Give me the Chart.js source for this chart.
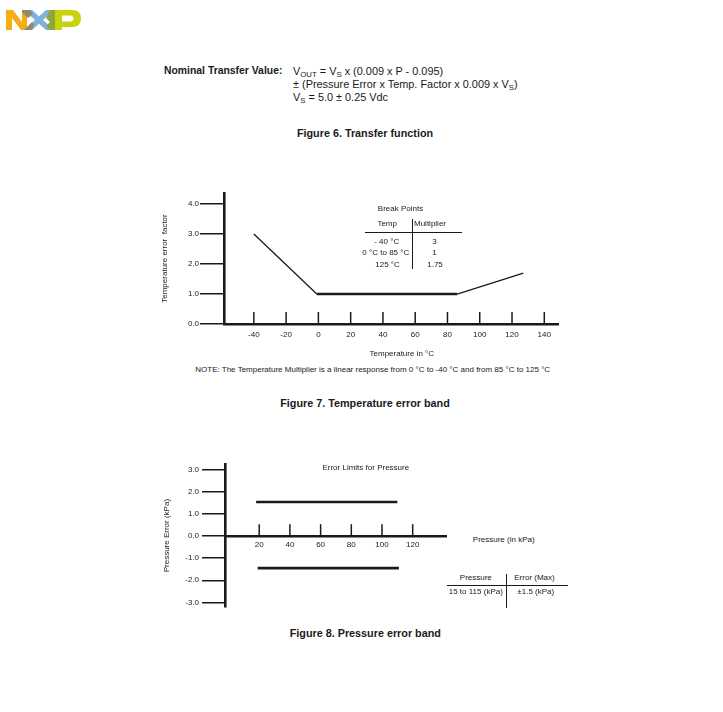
<!DOCTYPE html>
<html><head><meta charset="utf-8">
<script src="https://cdn.jsdelivr.net/npm/chart.js@4.4.1/dist/chart.umd.min.js"></script>
<style>
html,body{margin:0;padding:0;background:#fff;}
#page{position:relative;width:723px;height:712px;overflow:hidden;font-family:'Liberation Sans',Arial,sans-serif;color:#1a1a1a;}
.t{position:absolute;white-space:pre;line-height:1;transform:translate(-50%,-50%);font-size:8px;}
.l{position:absolute;white-space:pre;line-height:1;transform:translateY(-50%);font-size:10.9px;}
.b{font-weight:bold;font-size:10.4px;}
.cap{font-size:10.8px;font-weight:bold;}
.hl{position:absolute;height:1px;background:#1a1a1a;}
.vl{position:absolute;width:1px;background:#1a1a1a;}
canvas{position:absolute;}
sub{font-size:7.8px;vertical-align:-2px;line-height:0;}
</style></head>
<body><div id="page">
<svg style="position:absolute;left:6px;top:10px" width="75" height="20" viewBox="0 0 75 20">
  <path d="M0,0 H7 L16,12 V0 H21 V20 H15 L6,8 V20 H0 Z" fill="#F7AC13"/>
  <path d="M18,0 H26 L48,20 H40 Z" fill="#7DB2DA"/>
  <path d="M40,0 H48 L26,20 H18 Z" fill="#7DB2DA"/>
  <path d="M18,20 L26,12 L28,14 L26,20 Z M16,0 H24 L27,4 L22,8 L16,2 Z" fill="#8F8A6C"/>
  <path d="M44,0 H50 V20 H44 L40,16 L44,12 L40,8 Z" fill="#8FA63C"/>
  <path fill-rule="evenodd" d="M49,0 H66 Q75,0 75,8.5 Q75,17 66,17 H56 V20 H49 Z M56,5.5 H64 Q67.5,5.5 67.5,8.5 Q67.5,11.5 64,11.5 H56 Z" fill="#C6D30D"/>
</svg>

<div class="l b" style="left:164px;top:71px">Nominal Transfer Value:</div>
<div class="l" style="left:293px;top:71px">V<sub>OUT</sub> = V<sub>S</sub> x (0.009 x P - 0.095)</div>
<div class="l" style="left:293px;top:84px">± (Pressure Error x Temp. Factor x 0.009 x V<sub>S</sub>)</div>
<div class="l" style="left:293px;top:97px">V<sub>S</sub> = 5.0 ± 0.25 Vdc</div>
<div class="t cap" style="left:365px;top:133px">Figure 6. Transfer function</div>

<canvas id="c1" width="415" height="160" style="left:150px;top:183px;width:415px;height:160px"></canvas>
<div class="t" style="left:400.5px;top:209px">Break Points</div>
<div class="t" style="left:387.2px;top:224px">Temp</div>
<div class="t" style="left:430px;top:224px">Multiplier</div>
<div class="hl" style="left:365px;top:232px;width:97px"></div>
<div class="vl" style="left:412px;top:219px;height:50px"></div>
<div class="t" style="left:386.7px;top:241.5px">- 40 °C</div>
<div class="t" style="left:385.8px;top:253px">0 °C to 85 °C</div>
<div class="t" style="left:387.5px;top:265px">125 °C</div>
<div class="t" style="left:434.5px;top:241.5px">3</div>
<div class="t" style="left:434.5px;top:253px">1</div>
<div class="t" style="left:435px;top:265px">1.75</div>
<div class="t" style="left:401.8px;top:353.5px">Temperature in °C</div>
<div class="t" style="left:372.7px;top:369.5px">NOTE: The Temperature Multiplier is a linear response from 0 °C to -40 °C and from 85 °C to 125 °C</div>
<div class="t cap" style="left:365px;top:403px">Figure 7. Temperature error band</div>

<canvas id="c2" width="300" height="160" style="left:150px;top:455px;width:300px;height:160px"></canvas>
<div class="t" style="left:365.8px;top:467.7px">Error Limits for Pressure</div>
<div class="t" style="left:503.7px;top:540px">Pressure (in kPa)</div>
<div class="t" style="left:475.8px;top:578px">Pressure</div>
<div class="t" style="left:534.5px;top:578px">Error (Max)</div>
<div class="hl" style="left:447px;top:585px;width:121px"></div>
<div class="vl" style="left:505.5px;top:574px;height:34px"></div>
<div class="t" style="left:475.8px;top:592.3px">15 to 115 (kPa)</div>
<div class="t" style="left:535.8px;top:592.3px">±1.5 (kPa)</div>
<div class="t cap" style="left:365.3px;top:633.3px">Figure 8. Pressure error band</div>
</div>
<script>
// ---- data ----
const tempC = [-40, -1, 86, 127];
const tempFactor = [3, 1, 1, 1.7];
const tempTicks = [-40, -20, 0, 20, 40, 60, 80, 100, 120, 140];
const factorTicks = [0, 1, 2, 3, 4];

const pressureUpperX = [18, 110];
const pressureUpperY = [1.55, 1.55];
const pressureLowerX = [19, 111];
const pressureLowerY = [-1.45, -1.45];
const pressureTicks = [20, 40, 60, 80, 100, 120];
const errorTicks = [-3, -2, -1, 0, 1, 2, 3];

// ---- helpers ----
const INK = '#1a1a1a';
const FONT = {family: "'Liberation Sans', Arial, sans-serif", size: 8};
const toPts = (xs, ys) => xs.map((x, i) => ({x: x, y: ys[i]}));

const innerTicks = {
  id: 'innerTicks',
  afterDraw(chart, args, opts) {
    const xs = chart.scales.x, ys = chart.scales.y;
    const pos = xs.options.position;
    const base = (typeof pos === 'object') ? ys.getPixelForValue(pos.y) : chart.chartArea.bottom;
    const ctx = chart.ctx;
    ctx.save();
    ctx.strokeStyle = INK;
    ctx.lineWidth = opts.width;
    xs.ticks.forEach(t => {
      const px = xs.getPixelForValue(t.value);
      ctx.beginPath();
      ctx.moveTo(px, base);
      ctx.lineTo(px, base - opts.length);
      ctx.stroke();
    });
    ctx.restore();
  }
};

function yScale(min, max, ticks, width, tickLen, pad, title, titlePad) {
  return {
    type: 'linear', min: min, max: max,
    afterBuildTicks: ax => { ax.ticks = ticks.map(v => ({value: v})); },
    afterFit: ax => { ax.width = width; },
    grid: {display: true, drawOnChartArea: false, drawTicks: true, tickLength: tickLen, color: INK, lineWidth: 1.5},
    border: {display: true, color: INK, width: 2.6},
    ticks: {font: FONT, color: INK, padding: pad, callback: v => Number(v).toFixed(1)},
    title: {display: true, text: title, font: FONT, color: INK, padding: {top: titlePad, bottom: 0}}
  };
}
function xScale(min, max, ticks, pos, height, pad) {
  return {
    type: 'linear', min: min, max: max, position: pos,
    afterBuildTicks: ax => { ax.ticks = ticks.map(v => ({value: v})); },
    afterFit: ax => { ax.height = height; },
    grid: {display: false, drawTicks: false},
    border: {display: true, color: INK, width: 2.6},
    ticks: {font: FONT, color: INK, padding: pad, maxRotation: 0, autoSkip: false, callback: v => String(v)}
  };
}

Chart.defaults.font.family = FONT.family;

new Chart(document.getElementById('c1'), {
  type: 'scatter',
  data: {datasets: [{
    data: toPts(tempC, tempFactor),
    showLine: true, borderColor: INK, pointRadius: 0, fill: false, tension: 0,
    segment: {borderWidth: c => (c.p0.parsed.y === c.p1.parsed.y ? 2.6 : 1.3)}
  }]},
  options: {
    responsive: false, animation: false, events: [],
    layout: {padding: {top: 10, right: 7, left: 0, bottom: 0}},
    plugins: {legend: {display: false}, tooltip: {enabled: false}, innerTicks: {length: 12, width: 1.5}},
    scales: {
      x: xScale(-58.5, 148.5, tempTicks, 'bottom', 19, 6),
      y: yScale(0, 4.37, factorTicks, 74, 24, 1, 'Temperature error  factor', 10.2)
    }
  },
  plugins: [innerTicks]
});

new Chart(document.getElementById('c2'), {
  type: 'scatter',
  data: {datasets: [
    {data: toPts(pressureUpperX, pressureUpperY), showLine: true, borderColor: INK, borderWidth: 2.6, pointRadius: 0, fill: false},
    {data: toPts(pressureLowerX, pressureLowerY), showLine: true, borderColor: INK, borderWidth: 2.6, pointRadius: 0, fill: false}
  ]},
  options: {
    responsive: false, animation: false, events: [],
    layout: {padding: {top: 9, right: 4, left: 0, bottom: 7}},
    plugins: {legend: {display: false}, tooltip: {enabled: false}, innerTicks: {length: 12, width: 1.5}},
    scales: {
      x: xScale(-2.3, 141.7, pressureTicks, {y: 0}, 0, 4),
      y: yScale(-3.22, 3.27, errorTicks, 75, 23, 3, 'Pressure Error (kPa)', 11.9)
    }
  },
  plugins: [innerTicks]
});
</script>
</body></html>
